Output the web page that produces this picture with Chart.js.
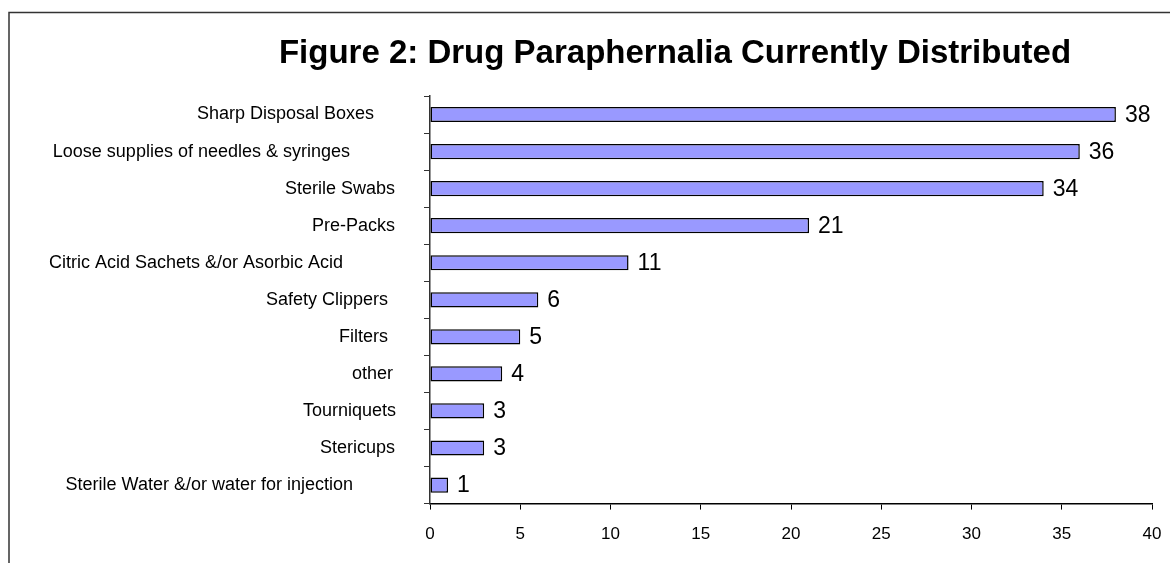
<!DOCTYPE html>
<html>
<head>
<meta charset="utf-8">
<title>Drug Paraphernalia Currently Distributed</title>
<script src="https://cdn.jsdelivr.net/npm/chart.js@4"></script>
<style>
    html, body { margin: 0; padding: 0; background: #fff; }
    #wrap { width: 1170px; height: 563px; position: relative; }
</style>
</head>
<body>
<div id="wrap"><canvas id="drugChart"></canvas></div>
<script>
// Items handed out, with how many services distribute each one
const items = [
    'Sharp Disposal Boxes',
    'Loose supplies of needles & syringes',
    'Sterile Swabs',
    'Pre-Packs',
    'Citric Acid Sachets &/or Asorbic Acid',
    'Safety Clippers',
    'Filters',
    'other',
    'Tourniquets',
    'Stericups',
    'Sterile Water &/or water for injection'
];
const counts = [38, 36, 34, 21, 11, 6, 5, 4, 3, 3, 1];
const xTicks = [0, 5, 10, 15, 20, 25, 30, 35, 40];

// how far each category label sits left of the axis line
const labelGap = [56, 80, 35, 35, 87, 42, 42, 37, 34, 35, 77];

const chartTitle = 'Figure 2: Drug Paraphernalia Currently Distributed';
const FONT = '"Liberation Sans", Arial, sans-serif';

// frame, title, category names and value labels
const decorations = {
    id: 'decorations',
    afterDraw(chart) {
        const ctx = chart.ctx;
        const area = chart.chartArea;
        const yScale = chart.scales.y;
        ctx.save();

        ctx.strokeStyle = '#333';
        ctx.lineWidth = 1.5;
        ctx.strokeRect(9, 12.5, 1300, 700);

        ctx.fillStyle = '#000';
        ctx.font = 'bold 33px ' + FONT;
        ctx.textAlign = 'center';
        ctx.textBaseline = 'middle';
        ctx.fillText(chartTitle, 675, 54);

        ctx.font = '18px ' + FONT;
        ctx.textAlign = 'right';
        items.forEach((name, i) => {
            ctx.fillText(name, area.left - labelGap[i], yScale.getPixelForValue(i));
        });

        ctx.font = '23px ' + FONT;
        ctx.textAlign = 'left';
        const meta = chart.getDatasetMeta(0);
        meta.data.forEach((bar, i) => {
            ctx.fillText(String(counts[i]), bar.x + 9, bar.y + 1);
        });
        ctx.restore();
    }
};

const ctx = document.getElementById('drugChart').getContext('2d');
const drugChart = new Chart(ctx, {
    type: 'bar',
    data: {
        labels: items,
        datasets: [{
            data: counts,
            backgroundColor: '#9999ff',
            borderColor: '#000',
            borderWidth: 1.5,
            borderSkipped: false,
            barPercentage: 0.41,
            categoryPercentage: 1
        }]
    },
    options: {
        indexAxis: 'y',
        responsive: true,
        maintainAspectRatio: false,
        animation: false,
        layout: {
            padding: { left: 424, right: 18, top: 96, bottom: 3 }
        },
        plugins: {
            legend: { display: false },
            title: { display: false },
            tooltip: { enabled: false }
        },
        scales: {
            x: {
                min: 0,
                max: 40,
                afterBuildTicks(scale) {
                    scale.ticks = xTicks.map(v => ({ value: v }));
                },
                afterFit(scale) {
                    scale.paddingLeft = 0;
                    scale.paddingRight = 0;
                },
                grid: {
                    drawOnChartArea: false,
                    drawTicks: true,
                    tickLength: 6,
                    color: '#000'
                },
                border: { color: '#000', width: 1.5 },
                ticks: {
                    color: '#000',
                    padding: 15,
                    maxRotation: 0,
                    font: { family: FONT, size: 17 }
                }
            },
            y: {
                grid: {
                    drawOnChartArea: false,
                    drawTicks: true,
                    tickLength: 6,
                    offset: true,
                    color: '#333'
                },
                border: { color: '#333', width: 1.5 },
                ticks: { display: false }
            }
        }
    },
    plugins: [decorations]
});
</script>
</body>
</html>
